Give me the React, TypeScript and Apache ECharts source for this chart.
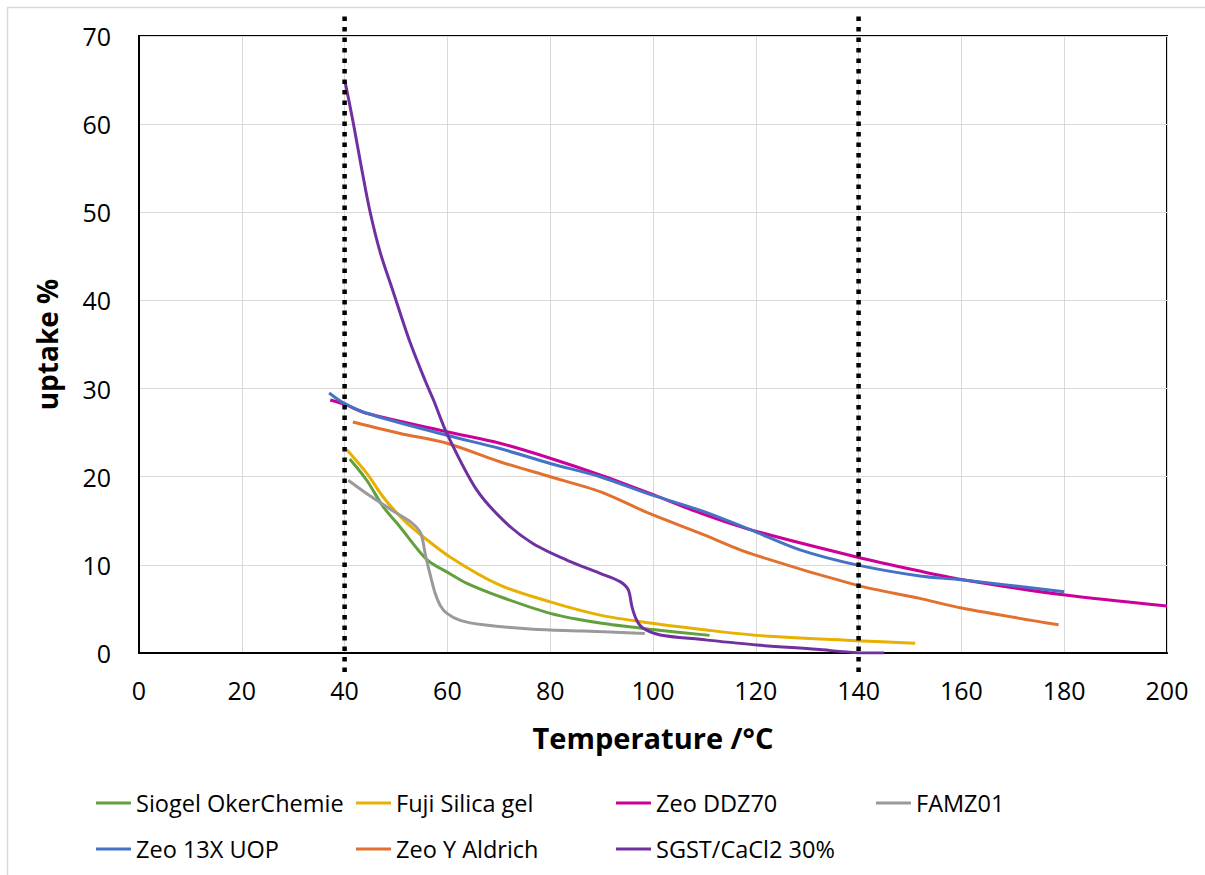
import React, { useEffect, useRef } from "react";
import * as echarts from "echarts";

const seriesNames = [
  "Siogel OkerChemie",
  "Fuji Silica gel",
  "Zeo DDZ70",
  "FAMZ01",
  "Zeo 13X UOP",
  "Zeo Y Aldrich",
  "SGST/CaCl2 30%",
];
const seriesColors = ["#62A03E", "#E8B000", "#CC0099", "#9A9A9A", "#4472C4", "#E2712F", "#7030A0"];

const siogelT = [41, 44.3, 47.5, 50.8, 56, 60.5, 63.8, 70.2, 80, 89.7, 99.4, 111];
const siogelU = [22.0, 19.6, 16.6, 14.3, 10.6, 9.0, 7.9, 6.4, 4.5, 3.4, 2.7, 2.0];

const fujiT = [40.4, 44.3, 47.5, 50.8, 54, 60.5, 70.2, 80, 89.7, 99.4, 109.1, 120.2, 139.6, 151];
const fujiU = [23.1, 20.4, 17.7, 15.5, 13.8, 10.9, 7.7, 5.8, 4.3, 3.4, 2.7, 2.0, 1.4, 1.1];

const ddzT = [37.2, 40, 44.3, 59.9, 70.2, 80, 89.7, 99.4, 109.1, 118.9, 139.6, 151.9, 160, 179.8, 200];
const ddzU = [28.7, 28.2, 27.2, 25.1, 23.8, 22.1, 20.2, 18.1, 15.9, 14.0, 10.9, 9.3, 8.35, 6.6, 5.33];

const famzT = [40.7, 45, 50, 53, 54.8, 55.8, 56.6, 57.6, 58.6, 59.9, 62.5, 67, 76.7, 86.4, 98.4];
const famzU = [19.6, 17.8, 15.9, 14.8, 13.6, 10.9, 9.0, 6.8, 5.4, 4.5, 3.7, 3.2, 2.7, 2.5, 2.2];

const zeo13xT = [37, 39.7, 44.3, 59.9, 70.2, 80, 89.7, 99.4, 109.1, 118.9, 128.6, 139.6, 151.9, 160, 180];
const zeo13xU = [29.5, 28.4, 27.2, 24.7, 23.2, 21.5, 20.0, 18.0, 16.2, 14.0, 11.7, 10.0, 8.74, 8.3, 6.96];

const zeoYT = [41.6, 50.8, 59.9, 70.2, 80, 89.7, 99.4, 109.1, 118.9, 139.6, 151.9, 160, 178.9];
const zeoYU = [26.2, 24.9, 23.8, 21.7, 20.0, 18.3, 15.8, 13.6, 11.3, 7.7, 6.2, 5.1, 3.2];

const sgstT = [40.1, 41.7, 43.3, 44.9, 46.9, 49.5, 52.7, 55.6, 57.3, 59.9, 65.7, 71.5, 76.7, 83.2, 89.7, 93.6, 95.2, 95.9, 96.8, 98.1, 101.4, 109.1, 120.2, 131.8, 139.6, 145];
const sgstU = [64.8, 60.1, 55.0, 50.2, 45.5, 40.9, 35.3, 31.0, 28.7, 24.9, 18.5, 14.7, 12.4, 10.55, 9.04, 8.1, 7.15, 5.25, 3.74, 2.8, 2.04, 1.55, 0.91, 0.42, 0.04, 0];

const seriesT = [siogelT, fujiT, ddzT, famzT, zeo13xT, zeoYT, sgstT];
const seriesU = [siogelU, fujiU, ddzU, famzU, zeo13xU, zeoYU, sgstU];

// reference temperature lines (°C) and their vertical extent (uptake %)
const refTemps = [40, 140];
const refExtent = [72.2, -2.3];

const xMin = 0, xMax = 200, xStep = 20;
const yMin = 0, yMax = 70, yStep = 10;

const FONT = "Open Sans";

export default function App() {
  const ref = useRef<HTMLDivElement>(null);
  useEffect(() => {
    if (!ref.current) return;
    const chart = echarts.init(ref.current, undefined, { renderer: "svg" });
    const lines = seriesNames.map((name, i) => ({
      name,
      type: "line",
      data: seriesT[i].map((t, j) => [t, seriesU[i][j]]),
      showSymbol: false,
      smooth: 0.3,
      lineStyle: { width: 3, color: seriesColors[i] },
      itemStyle: { color: seriesColors[i] },
      z: 3,
    }));
    const refLines = refTemps.map((t) => ({
      name: "ref" + t,
      type: "line",
      data: refExtent.map((u) => [t, u]),
      showSymbol: false,
      clip: false,
      silent: true,
      lineStyle: { width: 4.5, color: "#000", type: [4.5, 6], cap: "butt" },
      z: 5,
    }));
    const legendCommon = {
      icon: "rect",
      itemWidth: 35,
      itemHeight: 3,
      itemGap: 0,
      padding: 0,
      left: 96,
      orient: "horizontal",
      textStyle: { fontFamily: FONT, fontSize: 23.5, color: "#000", width: 220, overflow: "none", lineHeight: 28 },
    };
    chart.setOption({
      animation: false,
      backgroundColor: "#fff",
      graphic: [
        {
          type: "rect",
          shape: { x: 7.5, y: 7.5, width: 1400, height: 1000 },
          style: { fill: "none", stroke: "#D9D9D9", lineWidth: 1.5 },
          silent: true,
        },
      ],
      grid: {
        left: 139,
        top: 36,
        right: 38,
        bottom: 222,
        show: true,
        borderColor: "#000",
        borderWidth: 2,
        backgroundColor: "transparent",
      },
      legend: [
        { ...legendCommon, top: 789, data: seriesNames.slice(0, 4) },
        { ...legendCommon, top: 835, data: seriesNames.slice(4) },
      ],
      xAxis: {
        type: "value",
        min: xMin,
        max: xMax,
        interval: xStep,
        name: "Temperature /°C",
        nameLocation: "middle",
        nameGap: 70,
        nameTextStyle: { fontFamily: FONT, fontSize: 29, fontWeight: "bold", color: "#000" },
        axisLine: { show: true, lineStyle: { color: "#000", width: 2 } },
        axisTick: { show: false },
        axisLabel: { fontFamily: FONT, fontSize: 25, color: "#000", margin: 24 },
        splitLine: { show: true, lineStyle: { color: "#D9D9D9", width: 1 } },
      },
      yAxis: {
        type: "value",
        min: yMin,
        max: yMax,
        interval: yStep,
        name: "uptake %",
        nameLocation: "middle",
        nameGap: 78,
        nameTextStyle: { fontFamily: FONT, fontSize: 28, fontWeight: "bold", color: "#000" },
        axisLine: { show: true, lineStyle: { color: "#000", width: 2 } },
        axisTick: { show: false },
        axisLabel: { fontFamily: FONT, fontSize: 25, color: "#000", margin: 28 },
        splitLine: { show: true, lineStyle: { color: "#D9D9D9", width: 1 } },
      },
      series: [...lines, ...refLines],
    });
    return () => chart.dispose();
  }, []);
  return (
    <div
      ref={ref}
      style={{ position: "fixed", left: 0, top: 0, width: 1205, height: 875, background: "#fff" }}
    />
  );
}
